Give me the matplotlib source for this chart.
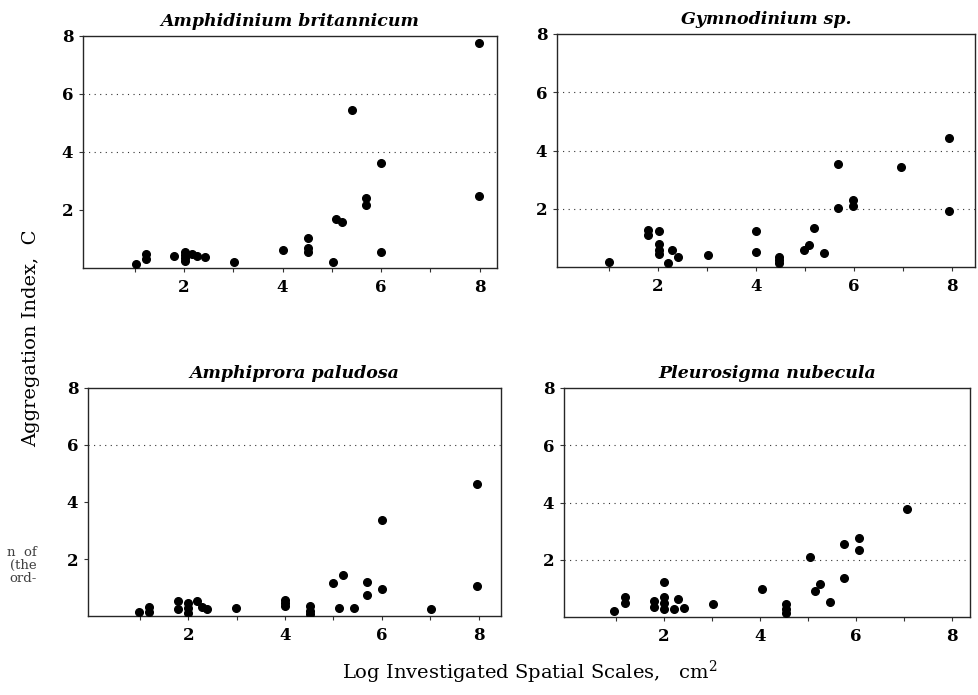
import matplotlib
matplotlib.use("Agg")
import matplotlib.pyplot as plt

plt.rcParams['mathtext.default'] = 'regular'

titles = ["Amphidinium britannicum", "Gymnodinium sp.",
          "Amphiprora paludosa", "Pleurosigma nubecula"]

x1 = [1.02, 1.23, 1.23, 1.80, 2.01, 2.01, 2.01, 2.01, 2.16, 2.27, 2.43, 3.01, 4.0,
      4.52, 4.52, 4.52, 5.02, 5.08, 5.2, 5.41, 5.69, 5.69, 6.0, 6.0, 7.98, 7.98]
y1 = [0.14, 0.48, 0.30, 0.42, 0.55, 0.45, 0.35, 0.25, 0.48, 0.42, 0.39, 0.22, 0.63,
      1.05, 0.69, 0.54, 0.21, 1.68, 1.57, 5.46, 2.41, 2.18, 3.62, 0.56, 7.75, 2.48]

x2 = [1.01, 1.80, 1.80, 2.03, 2.03, 2.03, 2.03, 2.22, 2.30, 2.41, 3.02, 4.0, 4.0,
      4.47, 4.47, 4.47, 4.98, 5.09, 5.18, 5.39, 5.67, 5.67, 5.98, 5.98, 6.96, 7.94, 7.94]
y2 = [0.17, 1.26, 1.09, 1.24, 0.78, 0.60, 0.44, 0.14, 0.60, 0.34, 0.42, 1.24, 0.50,
      0.36, 0.25, 0.14, 0.57, 0.75, 1.34, 0.47, 3.52, 2.03, 2.29, 2.11, 3.43, 4.44, 1.91]

x3 = [0.99, 1.19, 1.19, 1.78, 1.78, 1.99, 1.99, 1.99, 2.19, 2.29, 2.39, 2.99, 4.0,
      4.0, 4.0, 4.51, 4.51, 4.51, 4.98, 5.11, 5.19, 5.42, 5.7, 5.7, 6.0, 6.0, 7.02,
      7.97, 7.97]
y3 = [0.13, 0.33, 0.15, 0.54, 0.23, 0.44, 0.27, 0.12, 0.54, 0.33, 0.23, 0.27, 0.56,
      0.45, 0.34, 0.34, 0.19, 0.07, 1.16, 0.28, 1.45, 0.28, 1.19, 0.73, 3.38, 0.93,
      0.24, 4.63, 1.07]

x4 = [0.96, 1.19, 1.19, 1.79, 1.79, 2.0, 2.0, 2.0, 2.0, 2.2, 2.3, 2.41, 3.02, 4.05,
      4.54, 4.54, 4.54, 5.05, 5.14, 5.25, 5.46, 5.75, 5.75, 6.06, 6.06, 7.06]
y4 = [0.21, 0.71, 0.50, 0.56, 0.34, 1.21, 0.71, 0.50, 0.27, 0.29, 0.62, 0.33, 0.47,
      0.99, 0.47, 0.29, 0.14, 2.10, 0.91, 1.15, 0.51, 2.54, 1.37, 2.76, 2.33, 3.76]

grid_levels = [[4, 6], [2, 4, 6], [6], [2, 4, 6]]
xticks_major = [2, 4, 6, 8]
yticks_major = [2, 4, 6, 8]

series = [(x1, y1), (x2, y2), (x3, y3), (x4, y4)]

W, H = 979, 695
boxes = [(83, 497, 36, 268), (557, 975, 34, 267), (88, 501, 388, 616), (564, 970, 388, 617)]
xlims = [(-0.05, 8.35), (-0.05, 8.47), (-0.07, 8.46), (-0.08, 8.37)]

fig = plt.figure(figsize=(W / 100, H / 100), dpi=100)
serif = "DejaVu Serif"

for i, ((xs, ys), (l, r, t, b)) in enumerate(zip(series, boxes)):
    ax = fig.add_axes([l / W, 1 - b / H, (r - l) / W, (b - t) / H])
    for lev in grid_levels[i]:
        ax.axhline(lev, color="0.2", lw=0.8, linestyle=(0, (1, 4)), zorder=1)
    ax.plot(xs, ys, "o", color="black", markersize=5.5, zorder=3)
    ax.set_xlim(*xlims[i])
    ax.set_ylim(0, 8)
    ax.set_xticks(xticks_major)
    ax.set_xticks([1, 3, 5, 7], minor=True)
    ax.set_yticks(yticks_major)
    ax.tick_params(axis="both", which="both", direction="out", length=3, width=0.8,
                   labelsize=12, color="0.2")
    ax.tick_params(axis="x", pad=5)
    ax.tick_params(axis="y", pad=4)
    for lab in ax.get_xticklabels() + ax.get_yticklabels():
        lab.set_fontfamily(serif)
        lab.set_fontweight("bold")
    for sp in ax.spines.values():
        sp.set_linewidth(1.0)
        sp.set_color("0.15")
    ax.set_title(titles[i], fontfamily=serif, fontstyle="italic", fontweight="bold",
                 fontsize=12.5, pad=7)

fig.text(31 / W, 1 - 338 / H, "Aggregation Index,  C", rotation=90, ha="center",
         va="center", fontfamily=serif, fontsize=14)
fig.text(530 / W, 1 - 672 / H, "Log Investigated Spatial Scales,   cm$^2$", ha="center",
         va="center", fontfamily=serif, fontsize=14)

cap_lines = ["n  of", "(the", "ord-"]
cap_y = [552, 565, 579]
for s, yy in zip(cap_lines, cap_y):
    fig.text(37 / W, 1 - yy / H, s, ha="right", va="center", fontfamily=serif,
             fontsize=9.5, color="0.25")

fig.savefig("out.png", dpi=100)
